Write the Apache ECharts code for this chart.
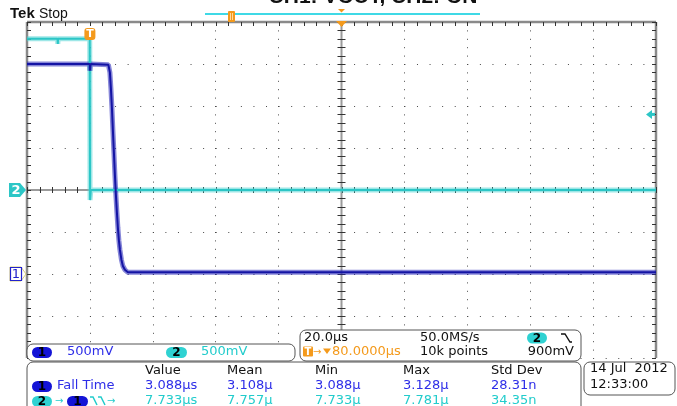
<!DOCTYPE html>
<html>
<head>
<meta charset="utf-8">
<script src="https://cdn.jsdelivr.net/npm/echarts@6/dist/echarts.min.js"></script>
<style>
  html, body { margin: 0; padding: 0; background: #fff; }
  #scope { width: 677px; height: 406px; }
</style>
</head>
<body>
<div id="scope"></div>
<script>
// ---- Acquisition setup ----
const timePerDiv = 20;          // µs per division
const timeMin = -20;            // left edge, µs (trigger at 0)
const timeMax = 180;            // right edge, µs
const divMin = -4, divMax = 4;  // vertical divisions
const ch1VoltsPerDiv = 0.5, ch1OffsetDiv = -2;
const ch2VoltsPerDiv = 0.5, ch2OffsetDiv = 0;
const ch2TriggerLevel = 0.9;    // V, falling edge
const horizPosition = 80;       // µs, screen centre

// ---- CH1 (VOUT) trace: time in µs, level in volts ----
const ch1Time  = [-20, -0.05, 0, 0.2, 5.88, 6.36, 6.68, 7.00, 7.31, 7.63, 7.95, 8.27, 8.59, 8.90, 9.22, 9.54, 10.02, 10.49, 11.13, 12.08, 180];
const ch1Volts = [2.50, 2.50, 2.42, 2.50, 2.49, 2.40, 2.21, 1.98, 1.71, 1.45, 1.18, 0.94, 0.73, 0.55, 0.40, 0.29, 0.17, 0.095, 0.05, 0.02, 0.02];

// ---- CH2 (ON) trace ----
const ch2Time  = [-20, -10.3, -10.2, -10.1, -0.05, 0.05, 0.3, 180];
const ch2Volts = [1.80, 1.80, 1.74, 1.80, 1.80, -0.12, 0.0, 0.0];

// ---- Measurement readouts ----
const measHeaders = ['Value', 'Mean', 'Min', 'Max', 'Std Dev'];
const measFallTime = ['3.088µs', '3.108µ', '3.088µ', '3.128µ', '28.31n'];
const measDelay = ['7.733µs', '7.757µ', '7.733µ', '7.781µ', '34.35n'];
const measColumnX = [145, 227, 315, 403, 491];

const toDiv = (times, volts, vpd, off) => times.map((t, i) => [t, volts[i] / vpd + off]);
const ch1Data = toDiv(ch1Time, ch1Volts, ch1VoltsPerDiv, ch1OffsetDiv);
const ch2Data = toDiv(ch2Time, ch2Volts, ch2VoltsPerDiv, ch2OffsetDiv);

const CYAN = '#2cc6c6', CYAN_TXT = '#22cccc', BLUE = '#1414a4', BLUE_TXT = '#2e2ee8',
      ORANGE = '#f49a1c', GRID = '#8a8a8a', DOT = '#4a4a4a';
const FONT = '"DejaVu Sans", sans-serif';

const chart = echarts.init(document.getElementById('scope'), null, { renderer: 'canvas' });

// Graticule frame, centre cross and fine ticks, placed through the axes
function graticule(params, api) {
  const cs = params.coordSys;
  const L = cs.x, T = cs.y, R = cs.x + cs.width, B = cs.y + cs.height;
  const [cx, cy] = api.coord([horizPosition, 0]);
  const kids = [];
  const line = (x1, y1, x2, y2, color, w) => kids.push({
    type: 'line', shape: { x1, y1, x2, y2 }, style: { stroke: color, lineWidth: w }
  });
  line(cx, T, cx, B, '#9a9a9a', 2);
  line(L, cy, R, cy, '#7a7a7a', 1.5);
  line(L, T, R, T, GRID, 2.5);
  line(L, T, L, B, GRID, 2.5);
  line(R, T, R, B, GRID, 2.5);
  for (let k = 0; k <= 50; k++) {
    const px = Math.round(api.coord([timeMin + k * timePerDiv / 5, 0])[0]) + 0.5;
    line(px, cy - 3, px, cy + 3, '#333', 1);
    line(px, T, px, T + 4, '#333', 1);
  }
  for (let k = 0; k <= 40; k++) {
    const py = Math.round(api.coord([0, divMin + k / 5])[1]) + 0.5;
    line(cx - 4, py, cx + 4, py, '#333', 1);
    line(L, py, L + 4, py, '#333', 1);
    line(R - 4, py, R, py, '#333', 1);
  }
  return { type: 'group', children: kids };
}

const option = {
  animation: false,
  backgroundColor: '#ffffff',
  grid: { left: 27, top: 22, width: 629, height: 336, show: false },
  xAxis: {
    type: 'value', min: timeMin, max: timeMax, interval: timePerDiv,
    axisLine: { show: false }, axisTick: { show: false }, axisLabel: { show: false },
    splitLine: { show: true, lineStyle: { color: DOT, width: 1, type: [1, 7.4] } }
  },
  yAxis: {
    type: 'value', min: divMin, max: divMax, interval: 1,
    axisLine: { show: false }, axisTick: { show: false }, axisLabel: { show: false },
    splitLine: { show: true, lineStyle: { color: DOT, width: 1, type: [1, 11.58] } }
  },
  series: [
    { type: 'custom', name: 'graticule', renderItem: graticule, data: [[horizPosition, 0]], z: 1, silent: true },
    { type: 'line', name: 'CH2 band', data: ch2Data, showSymbol: false, z: 3, silent: true,
      lineStyle: { color: '#4fd4d4', width: 5, opacity: 0.55 } },
    { type: 'line', name: 'CH2', data: ch2Data, showSymbol: false, z: 4, silent: true,
      lineStyle: { color: CYAN, width: 2 } },
    { type: 'line', name: 'CH1 band', data: ch1Data, showSymbol: false, z: 3, silent: true,
      lineStyle: { color: '#2323b8', width: 5, opacity: 0.55 } },
    { type: 'line', name: 'CH1', data: ch1Data, showSymbol: false, z: 4, silent: true,
      lineStyle: { color: BLUE, width: 2 } }
  ]
};
chart.setOption(option);

const px = (t, d) => chart.convertToPixel({ gridIndex: 0 }, [t, d]);
const g = [];
const txt = (x, y, s, fill, opt = {}) => g.push({
  type: 'text', z: 120,
  style: Object.assign({ x, y, text: s, fill, font: '13px ' + FONT, verticalAlign: 'middle', align: 'left' }, opt)
});
const rect = (x, y, w, h, r, fill, stroke, lw = 1, z = 110) => g.push({
  type: 'rect', z, shape: { x, y, width: w, height: h, r },
  style: { fill, stroke: stroke || null, lineWidth: lw }
});
const poly = (points, stroke, lw = 1.3, fill, z = 120, closed = false) => g.push({
  type: closed ? 'polygon' : 'polyline', z, shape: { points },
  style: { stroke: stroke || null, fill: fill || null, lineWidth: lw }
});
const pill = (x, y, w, h, fill, label) => {
  rect(x, y, w, h, h / 2, fill, null, 0, 118);
  txt(x + w / 2, y + h / 2 + 0.5, label, '#000', { align: 'center', font: 'bold 12px ' + FONT });
};

// Header: brand, run state and title (title runs off the top edge)
txt(10, 14, 'Tek', '#111', { font: 'bold 15px "Liberation Sans", Arial, sans-serif' });
txt(39, 14, 'Stop', '#111', { font: '14px "Liberation Sans", Arial, sans-serif' });
txt(373, -2.5, 'CH1: VOUT, CH2: ON', '#111', { align: 'center', font: 'bold 21px "Liberation Sans", Arial, sans-serif' });

// Record view bar
rect(205, 13, 275, 2, 0, '#3fd9e6', null, 0, 105);
rect(228, 11, 7, 11, 1, ORANGE, null, 0, 106);
rect(230, 13, 1, 7, 0, '#ffd9a0', null, 0, 107);
rect(232, 13, 1, 7, 0, '#ffd9a0', null, 0, 107);
const [cX] = px(horizPosition, 0);
poly([[cX - 3.5, 9], [cX + 3.5, 9], [cX, 12.5]], null, 0, ORANGE, 106, true);

// Expansion point and trigger position markers
const [trigX] = px(0, 0);
const gridTop = px(0, divMax)[1];
poly([[cX - 5.5, gridTop - 1], [cX + 5.5, gridTop - 1], [cX, gridTop + 5]], null, 0, ORANGE, 106, true);
rect(trigX - 5.5, gridTop + 6, 11, 12, 3, ORANGE, null, 0, 106);
txt(trigX, gridTop + 12.5, 'T', '#fff', { align: 'center', font: 'bold 11px ' + FONT });

// Channel ground markers
const [, g2Y] = px(timeMin, ch2OffsetDiv);
const leftX = px(timeMin, 0)[0];
poly([[9, g2Y - 7], [leftX - 7, g2Y - 7], [leftX - 1, g2Y], [leftX - 7, g2Y + 7], [9, g2Y + 7]], null, 0, CYAN, 106, true);
txt(16, g2Y + 0.5, '2', '#fff', { align: 'center', font: 'bold 13px ' + FONT });
const [, g1Y] = px(timeMin, ch1OffsetDiv);
poly([[10, g1Y - 7], [leftX - 6, g1Y - 7], [leftX - 1, g1Y], [leftX - 6, g1Y + 7], [10, g1Y + 7]], '#d9cf7a', 1, '#fff', 106, true);
rect(10.5, g1Y - 6.5, 11, 13, 0, '#fff', '#2222cc', 1.2, 107);
txt(16, g1Y + 0.5, '1', '#2222cc', { align: 'center', font: '13px ' + FONT });

// Trigger level indicator on the right edge
const [rightX, trigY] = px(timeMax, ch2TriggerLevel / ch2VoltsPerDiv + ch2OffsetDiv);
poly([[rightX - 10, trigY], [rightX - 4, trigY - 4.5], [rightX - 4, trigY + 4.5]], null, 0, CYAN, 106, true);
rect(rightX - 5, trigY - 1.5, 4, 3, 0, CYAN, null, 0, 106);

// Vertical scale box
rect(27, 344, 268, 17, 6, '#fff', '#555', 1);
pill(32, 347, 20, 11, '#1414d6', '1');
txt(67, 352, '500mV', BLUE_TXT);
pill(166, 347, 21, 11, '#2fd2d2', '2');
txt(201, 352, '500mV', CYAN_TXT);

// Horizontal / trigger box
rect(300, 330, 281, 31, 6, '#fff', '#555', 1);
txt(304, 338, '20.0µs', '#111');
rect(303, 346.5, 10, 10, 1, ORANGE, null, 0, 118);
txt(308, 352, 'T', '#fff', { align: 'center', font: 'bold 10px ' + FONT });
txt(313, 352, '→', ORANGE, { font: '10px ' + FONT });
poly([[323, 348.5], [331, 348.5], [327, 354]], null, 0, ORANGE, 120, true);
txt(332, 352, '80.0000µs', ORANGE);
txt(420, 338, '50.0MS/s', '#111');
txt(420, 352, '10k points', '#111');
pill(527, 332.5, 20, 11, '#2fd2d2', '2');
poly([[561, 334], [565, 334], [570, 342], [572, 342]], '#111', 1.4);
txt(574, 352, '900mV', '#111', { align: 'right' });

// Measurement box
rect(27, 362, 554, 60, 6, '#fff', '#555', 1);
measHeaders.forEach((h, i) => txt(measColumnX[i], 371, h, '#111'));
pill(32, 381, 20, 11, '#1414d6', '1');
txt(57, 386, 'Fall Time', BLUE_TXT);
measFallTime.forEach((v, i) => txt(measColumnX[i], 386, v, BLUE_TXT));
pill(32, 396, 20, 11, '#2fd2d2', '2');
txt(55, 401, '→', CYAN_TXT, { font: '10px ' + FONT });
pill(67, 396, 21, 11, '#1414d6', '1');
poly([[90, 397], [93, 397], [97, 405]], CYAN_TXT, 1.5);
poly([[98, 397], [101, 397], [105, 405]], CYAN_TXT, 1.5);
txt(107, 401, '→', CYAN_TXT, { font: '10px ' + FONT });
measDelay.forEach((v, i) => txt(measColumnX[i], 401, v, CYAN_TXT));

// Date / time box
rect(584, 362, 91, 33, 6, '#fff', '#555', 1);
txt(590, 369, '14 Jul  2012', '#111');
txt(590, 385, '12:33:00', '#111');

chart.setOption({ graphic: g });
</script>
</body>
</html>
